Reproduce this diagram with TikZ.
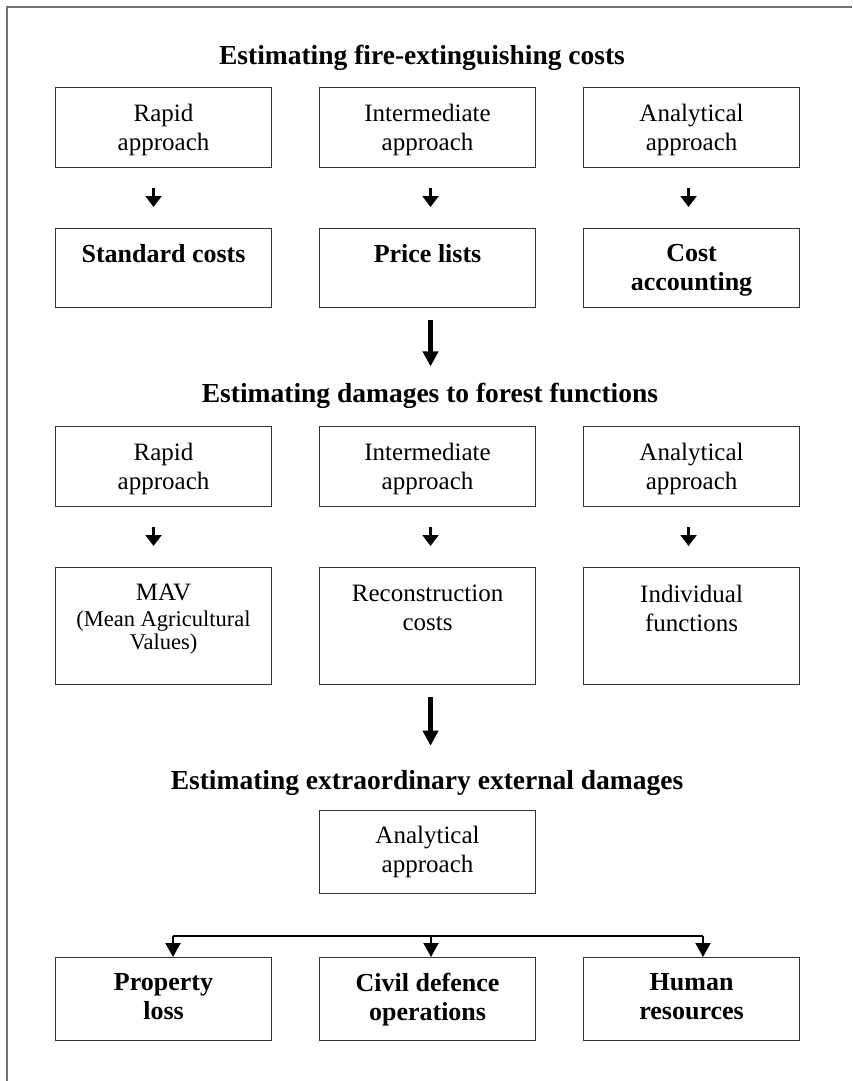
\documentclass[tikz,border=0pt]{standalone}
\usepackage{fontspec}
\setmainfont{Liberation Serif}
\usetikzlibrary{arrows.meta}
\begin{document}
\begin{tikzpicture}[x=1pt,y=-1pt,
  box/.style={draw=black!80, line width=1.1pt, minimum width=216pt, inner sep=0pt, anchor=north west},
  lbl/.style={anchor=north, inner sep=0pt, align=center, text=black, font=\fontsize{25}{29}\selectfont},
  blbl/.style={anchor=north, inner sep=0pt, align=center, text=black, font=\bfseries\fontsize{26}{29}\selectfont},
  heading/.style={anchor=base, inner sep=0pt, font=\bfseries\fontsize{27.5}{33}\selectfont},
  smallarrow/.style={line width=2.2pt, -{Triangle[width=16pt,length=11pt]}, shorten <=20pt, shorten >=21pt},
  bigarrow/.style={line width=4.5pt, -{Triangle[width=15pt,length=15pt]}},
  bus/.style={line width=2pt},
  branch/.style={line width=2pt, -{Triangle[width=15pt,length=14pt]}},
  frame/.style={draw=black!55, line width=1.5pt}
]
\useasboundingbox (0,0) rectangle (852,1081);
% page frame (top and left edges)
\draw[frame] (7,1081) -- (7,7) -- (852,7);

% ---- fire-extinguishing costs ----
\node[heading] (t1) at (422,64) {Estimating fire-extinguishing costs};
\node[box, minimum height=80pt] (r1a) at (55,87) {};
\node[box, minimum height=80pt] (r1b) at (319,87) {};
\node[box, minimum height=80pt] (r1c) at (583,87) {};
\node[lbl, yshift=-17pt] (r1a-t) at (r1a.north) {Rapid\\approach};
\node[lbl, yshift=-17pt] (r1b-t) at (r1b.north) {Intermediate\\approach};
\node[lbl, yshift=-17pt] (r1c-t) at (r1c.north) {Analytical\\approach};

\node[box, minimum height=79pt] (r2a) at (55,228) {};
\node[box, minimum height=79pt] (r2b) at (319,228) {};
\node[box, minimum height=79pt] (r2c) at (583,228) {};
\node[blbl, yshift=-16pt] (r2a-t) at (r2a.north) {Standard costs};
\node[blbl, yshift=-16pt] (r2b-t) at (r2b.north) {Price lists};
\node[blbl, yshift=-16pt] (r2c-t) at (r2c.north) {Cost\\accounting};

\draw[smallarrow] ([xshift=-10pt]r1a.south) -- ([xshift=-10pt]r2a.north);
\draw[smallarrow] ([xshift=3pt]r1b.south) -- ([xshift=3pt]r2b.north);
\draw[smallarrow] ([xshift=-3pt]r1c.south) -- ([xshift=-3pt]r2c.north);

% ---- damages to forest functions ----
\node[heading] (t2) at (430,402) {Estimating damages to forest functions};
\draw[bigarrow, shorten <=12pt, shorten >=16pt] ([xshift=3pt]r2b.south) -- ([xshift=3pt]r2b.south |- t2.north);

\node[box, minimum height=80pt] (r3a) at (55,426) {};
\node[box, minimum height=80pt] (r3b) at (319,426) {};
\node[box, minimum height=80pt] (r3c) at (583,426) {};
\node[lbl, yshift=-17pt] (r3a-t) at (r3a.north) {Rapid\\approach};
\node[lbl, yshift=-17pt] (r3b-t) at (r3b.north) {Intermediate\\approach};
\node[lbl, yshift=-17pt] (r3c-t) at (r3c.north) {Analytical\\approach};

\node[box, minimum height=117pt] (r4a) at (55,567) {};
\node[box, minimum height=117pt] (r4b) at (319,567) {};
\node[box, minimum height=117pt] (r4c) at (583,567) {};
\node[lbl, yshift=-17pt] (r4a-t) at (r4a.north) {MAV\\[-3pt]{\fontsize{22.5}{24}\selectfont (Mean Agricultural}\\[-6pt]{\fontsize{22.5}{24}\selectfont Values)}};
\node[lbl, yshift=-18pt] (r4b-t) at (r4b.north) {Reconstruction\\costs};
\node[lbl, yshift=-18pt] (r4c-t) at (r4c.north) {Individual\\functions};

\draw[smallarrow] ([xshift=-10pt]r3a.south) -- ([xshift=-10pt]r4a.north);
\draw[smallarrow] ([xshift=3pt]r3b.south) -- ([xshift=3pt]r4b.north);
\draw[smallarrow] ([xshift=-3pt]r3c.south) -- ([xshift=-3pt]r4c.north);

% ---- extraordinary external damages ----
\node[heading] (t3) at (427,789) {Estimating extraordinary external damages};
\draw[bigarrow, shorten <=12pt, shorten >=24pt] ([xshift=3pt]r4b.south) -- ([xshift=3pt]r4b.south |- t3.north);

\node[box, minimum height=83pt] (ana) at (319,810) {};
\node[lbl, yshift=-16pt] (ana-t) at (ana.north) {Analytical\\approach};

\node[box, minimum height=83pt] (bA) at (55,957) {};
\node[box, minimum height=83pt] (bB) at (319,957) {};
\node[box, minimum height=83pt] (bC) at (583,957) {};
\node[blbl, yshift=-16pt] (bA-t) at (bA.north) {Property\\loss};
\node[blbl, yshift=-16pt] (bB-t) at (bB.north) {Civil defence\\operations};
\node[blbl, yshift=-16pt] (bC-t) at (bC.north) {Human\\resources};

\coordinate (busL) at (173,936);
\coordinate (busM) at (431,936);
\coordinate (busR) at (703,936);
\draw[bus] (busL) -- (busR);
\draw[branch] (busL) -- (busL |- bA.north);
\draw[branch] (busM) -- (busM |- bB.north);
\draw[branch] (busR) -- (busR |- bC.north);
\end{tikzpicture}
\end{document}
